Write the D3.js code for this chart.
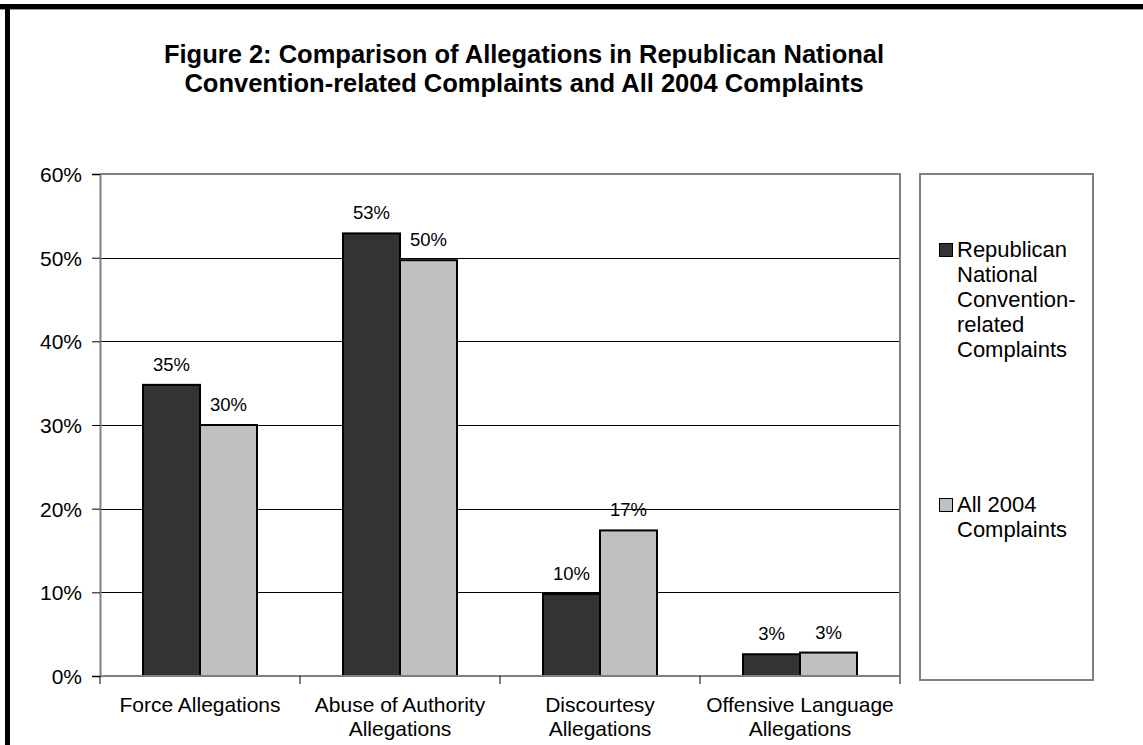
<!DOCTYPE html>
<html>
<head>
    <title>Figure 2</title>
    <script src="https://cdn.jsdelivr.net/npm/d3@7"></script>
    <style>
        body {
            margin: 0;
            padding: 0;
            background-color: white;
        }

        svg text {
            font-family: "Liberation Sans", Arial, sans-serif;
            fill: black;
        }

        .title {
            font-size: 25.5px;
            font-weight: bold;
        }

        .tick-label {
            font-size: 21px;
        }

        .bar-label {
            font-size: 18.5px;
        }

        .legend-label {
            font-size: 22px;
        }
    </style>
</head>
<body>
    <div id="chart"></div>

    <script>
        const categories = [
            ["Force Allegations"],
            ["Abuse of Authority", "Allegations"],
            ["Discourtesy", "Allegations"],
            ["Offensive Language", "Allegations"]
        ];
        const seriesNames = [
            ["Republican", "National", "Convention-", "related", "Complaints"],
            ["All 2004", "Complaints"]
        ];
        const rncValues = [0.348, 0.529, 0.098, 0.026];
        const allValues = [0.300, 0.497, 0.174, 0.028];
        const yTicks = [0, 0.1, 0.2, 0.3, 0.4, 0.5, 0.6];
        const colors = ["#333333", "#c0c0c0"];

        const width = 1143, height = 745;
        const plot = { left: 100, right: 900, top: 174, bottom: 676 };

        const svg = d3.select("#chart")
            .append("svg")
            .attr("width", width)
            .attr("height", height);

        // outer frame: thick black top and left edges
        svg.append("rect").attr("x", 0).attr("y", 4).attr("width", width).attr("height", 5).attr("fill", "black");
        svg.append("rect").attr("x", 0).attr("y", 9).attr("width", width).attr("height", 1).attr("fill", "#999");
        svg.append("rect").attr("x", 5).attr("y", 4).attr("width", 5).attr("height", height).attr("fill", "black");

        const title = svg.append("text")
            .attr("class", "title")
            .attr("text-anchor", "middle");
        title.append("tspan").attr("x", 524).attr("y", 63)
            .text("Figure 2: Comparison of Allegations in Republican National");
        title.append("tspan").attr("x", 524).attr("y", 92)
            .text("Convention-related Complaints and All 2004 Complaints");

        const keys = categories.map(c => c.join(" "));
        const data = keys.map((k, i) => ({ key: k, values: [rncValues[i], allValues[i]] }));

        const x0 = d3.scaleBand()
            .domain(keys)
            .range([plot.left, plot.right]);

        const x1 = d3.scaleBand()
            .domain([0, 1])
            .range([43, 157]);

        const y = d3.scaleLinear()
            .domain([0, 0.6])
            .range([plot.bottom, plot.top]);

        // gridlines
        svg.append("g")
            .selectAll("line")
            .data(yTicks.filter(t => t > 0 && t < 0.6))
            .enter()
            .append("line")
            .attr("x1", plot.left)
            .attr("x2", plot.right)
            .attr("y1", d => Math.round(y(d)) + 0.5)
            .attr("y2", d => Math.round(y(d)) + 0.5)
            .attr("stroke", "black")
            .attr("stroke-width", 1);

        // plot border (top and right)
        svg.append("path")
            .attr("d", `M${plot.left},${plot.top}H${plot.right}V${plot.bottom}`)
            .attr("fill", "none")
            .attr("stroke", "#808080")
            .attr("stroke-width", 2);

        // bars
        const groups = svg.append("g")
            .selectAll("g")
            .data(data)
            .enter()
            .append("g")
            .attr("transform", d => `translate(${x0(d.key)},0)`);

        groups.selectAll("rect")
            .data(d => d.values.map((v, i) => ({ v, i })))
            .enter()
            .append("rect")
            .attr("x", d => x1(d.i))
            .attr("y", d => y(d.v))
            .attr("width", x1.bandwidth())
            .attr("height", d => y(0) - y(d.v))
            .attr("fill", d => colors[d.i])
            .attr("stroke", "black")
            .attr("stroke-width", 2);

        groups.selectAll(".bar-label")
            .data(d => d.values.map((v, i) => ({ v, i })))
            .enter()
            .append("text")
            .attr("class", "bar-label")
            .attr("text-anchor", "middle")
            .attr("x", d => x1(d.i) + x1.bandwidth() / 2)
            .attr("y", d => y(d.v) - 14)
            .text(d => d3.format(".0%")(d.v));

        // y axis
        const yAxis = svg.append("g")
            .attr("transform", `translate(${plot.left},0)`)
            .call(d3.axisLeft(y).tickValues(yTicks).tickFormat(d3.format(".0%")).tickSize(8).tickPadding(10));
        yAxis.attr("font-family", null).attr("font-size", null);
        yAxis.select(".domain").attr("stroke", "#808080").attr("stroke-width", 2);
        yAxis.selectAll(".tick line").attr("stroke", "black");
        yAxis.selectAll(".tick text").attr("class", "tick-label").attr("dy", "0.35em");

        // x axis: ticks at band boundaries
        const xAxis = svg.append("g");
        xAxis.append("line")
            .attr("x1", plot.left)
            .attr("x2", plot.right)
            .attr("y1", plot.bottom)
            .attr("y2", plot.bottom)
            .attr("stroke", "#808080")
            .attr("stroke-width", 2);
        xAxis.selectAll(".xtick")
            .data(keys.map(k => x0(k)).concat([plot.right]))
            .enter()
            .append("line")
            .attr("x1", d => d)
            .attr("x2", d => d)
            .attr("y1", plot.bottom)
            .attr("y2", plot.bottom + 8)
            .attr("stroke", "black");

        const catLabels = xAxis.selectAll(".cat")
            .data(categories)
            .enter()
            .append("text")
            .attr("class", "tick-label")
            .attr("text-anchor", "middle");
        catLabels.selectAll("tspan")
            .data((d, i) => d.map(line => ({ line, key: keys[i] })))
            .enter()
            .append("tspan")
            .attr("x", d => x0(d.key) + x0.bandwidth() / 2)
            .attr("y", (d, j) => 712 + j * 24)
            .text(d => d.line);

        // legend
        svg.append("rect")
            .attr("x", 920)
            .attr("y", 174)
            .attr("width", 173)
            .attr("height", 506)
            .attr("fill", "white")
            .attr("stroke", "#808080")
            .attr("stroke-width", 2);

        const legendBaselines = [257, 512];
        seriesNames.forEach((lines, i) => {
            svg.append("rect")
                .attr("x", 939.5)
                .attr("y", legendBaselines[i] - 13.5)
                .attr("width", 13)
                .attr("height", 13)
                .attr("fill", colors[i])
                .attr("stroke", "black")
                .attr("stroke-width", 1);
            const t = svg.append("text").attr("class", "legend-label");
            t.selectAll("tspan")
                .data(lines)
                .enter()
                .append("tspan")
                .attr("x", 957)
                .attr("y", (d, j) => legendBaselines[i] + j * 25)
                .text(d => d);
        });
    </script>
</body>
</html>
